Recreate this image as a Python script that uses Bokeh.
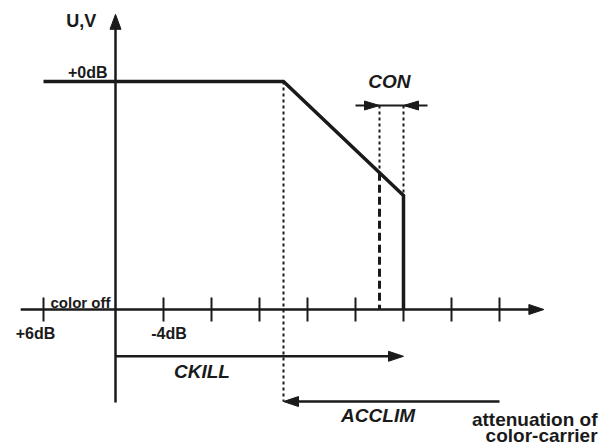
from bokeh.plotting import figure
from bokeh.models import Range1d
from bokeh.core.properties import value
from bokeh.embed import file_html
from bokeh.resources import INLINE

# ---- data (x: attenuation in dB, y: relative level in dB) ----
tick_db = [-6, 4, 8, 12, 16, 20, 24, 28, 32]
tick_labels = ["+6dB", "-4dB"]
tick_label_db = [-6, 4]
curve_x = [-6, 14, 24, 24]
curve_y = [0, 0, -9.5, -19]
axis_level = -19          # "color off" level = x axis
con_start, con_end = 22, 24   # CON window
ckill_end = 24
acclim_start, acclim_end = 32, 14

PX = 12.0  # pixels per dB unit (both directions)

W, H = 613, 446
x0 = -115 / PX
y1 = 81 / PX
p = figure(width=W, height=H, output_backend="svg", toolbar_location=None,
           x_range=Range1d(x0, x0 + W / PX), y_range=Range1d(y1 - H / PX, y1),
           min_border=0, min_border_left=0, min_border_right=0,
           min_border_top=0, min_border_bottom=0)
p.xaxis.visible = False
p.yaxis.visible = False
p.xgrid.visible = False
p.ygrid.visible = False
p.outline_line_color = None

BLK = "#1a1a1a"


def head(xt, yt, dx, dy, length=15, half=5):
    """triangle arrowhead with tip (xt,yt) pointing in direction (dx,dy)"""
    L = length / PX
    h = half / PX
    bx, by = xt - dx * L, yt - dy * L
    nx, ny = -dy, dx
    return [xt, bx + nx * h, bx - nx * h], [yt, by + ny * h, by - ny * h]


heads_x, heads_y = [], []

# y axis
y_bottom, y_top = -26.75, 5.6
p.line([0, 0], [y_bottom, y_top - 0.5], line_width=2.5, line_color=BLK)
hx, hy = head(0, y_top, 0, 1, 15, 5.5)
heads_x.append(hx); heads_y.append(hy)

# x axis
x_left, x_right = -7.9, 35.7
p.line([x_left, x_right - 0.5], [axis_level, axis_level], line_width=2.5, line_color=BLK)
hx, hy = head(x_right, axis_level, 1, 0, 15, 5)
heads_x.append(hx); heads_y.append(hy)

# ticks
p.segment(x0=tick_db, y0=[axis_level - 1.0] * len(tick_db),
          x1=tick_db, y1=[axis_level + 1.0] * len(tick_db),
          line_width=2, line_color=BLK)

# main curve
p.line(curve_x, curve_y, line_width=3.5, line_color=BLK, line_join="miter")


def curve_at(x):
    return curve_y[1] + (curve_y[2] - curve_y[1]) * (x - curve_x[1]) / (curve_x[2] - curve_x[1])


# dashed line at CON start
p.line([con_start, con_start], [curve_at(con_start), axis_level], line_width=3,
       line_color=BLK, line_dash="8 4")

# dotted guides
con_level = -2
p.line([curve_x[1], curve_x[1]], [0, -26.67], line_width=2, line_color=BLK, line_dash="3 3")
p.line([con_start, con_start], [con_level, curve_at(con_start)], line_width=2,
       line_color=BLK, line_dash="3 3")
p.line([con_end, con_end], [con_level, curve_at(con_end)], line_width=2,
       line_color=BLK, line_dash="3 3")

# CON bracket
p.line([con_start - 2, con_end + 2], [con_level, con_level], line_width=2, line_color=BLK)
hx, hy = head(con_start, con_level, 1, 0, 15, 4.5)
heads_x.append(hx); heads_y.append(hy)
hx, hy = head(con_end, con_level, -1, 0, 15, 4.5)
heads_x.append(hx); heads_y.append(hy)

# CKILL arrow
ck_level = -22.9
p.line([0, ckill_end - 0.5], [ck_level, ck_level], line_width=2.5, line_color=BLK)
hx, hy = head(ckill_end, ck_level, 1, 0, 15, 5)
heads_x.append(hx); heads_y.append(hy)

# ACCLIM arrow
ac_level = -26.67
p.line([acclim_start, acclim_end + 0.5], [ac_level, ac_level], line_width=2.5, line_color=BLK)
hx, hy = head(acclim_end, ac_level, -1, 0, 15, 5)
heads_x.append(hx); heads_y.append(hy)

p.patches(heads_x, heads_y, fill_color=BLK, line_color=BLK, line_width=1)

# ---- texts ----
F = value("Liberation Sans")


def txt(x, y, s, size, style="bold", align="center", baseline="middle"):
    p.text(x=[x], y=[y], text=[s], text_font=F, text_font_size=size,
           text_font_style=style, text_align=align, text_baseline=baseline,
           text_color=BLK)


txt(-1.6, 5.08, "U,V", "18px", align="right")
txt(-0.67, 0.71, "+0dB", "16px", align="right")
txt(22.83, -0.04, "CON", "19px", style="bold italic")
txt(-5.42, -18.4, "color off", "15px", align="left")
for xv, lab in zip(tick_label_db, tick_labels):
    txt(xv - (0.67 if xv < 0 else -0.46), -20.96, lab, "16px")
txt(7.2, -24.17, "CKILL", "19px", style="bold italic")
txt(21.88, -27.83, "ACCLIM", "19px", style="bold italic")
txt(40.17, -28.17, "attenuation of", "19px", align="right")
txt(40.17, -29.5, "color-carrier", "19px", align="right")

open("out.html", "w").write(file_html(p, INLINE))
